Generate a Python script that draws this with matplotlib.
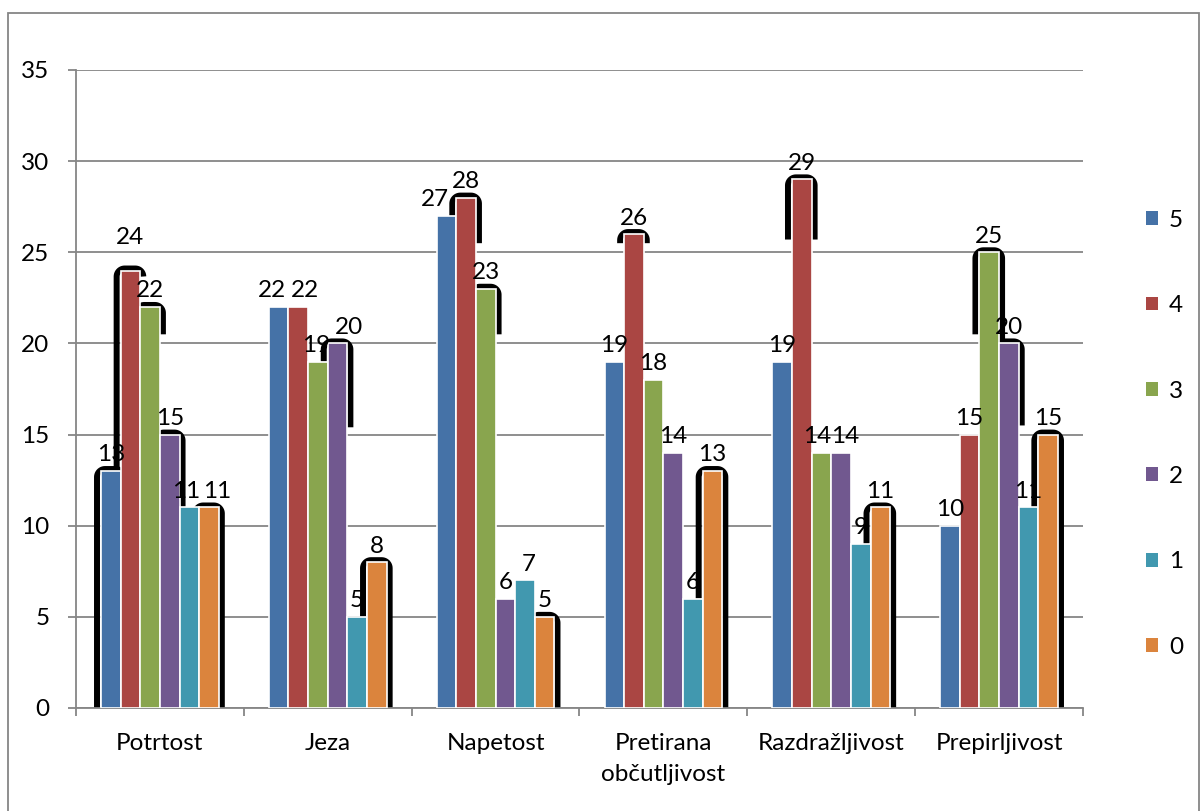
import numpy as np
import matplotlib.pyplot as plt
from matplotlib.patches import Rectangle, Patch

plt.rcParams['font.family'] = ['Lato', 'DejaVu Sans']

categories = ['Potrtost', 'Jeza', 'Napetost', 'Pretirana\nobčutljivost',
              'Razdražljivost', 'Prepirljivost']
series_names = ['5', '4', '3', '2', '1', '0']
values = {
    '5': [13, 22, 27, 19, 19, 10],
    '4': [24, 22, 28, 26, 29, 15],
    '3': [22, 19, 23, 18, 14, 25],
    '2': [15, 20, 6, 14, 14, 20],
    '1': [11, 5, 7, 6, 9, 11],
    '0': [11, 8, 5, 13, 11, 15],
}
colors = ['#4572A7', '#AA4643', '#89A54E', '#71588F', '#4198AF', '#DB843D']

# black callout outlines left around some of the bars:
# (category, series, lower end of left side, lower end of right side)
callouts = [
    (0, '5', 0, None), (0, '4', 0, None), (0, '3', None, 20.5),
    (0, '2', None, 11), (0, '0', 11, 0),
    (1, '2', 19, 15.4), (1, '0', 5, 0),
    (2, '4', 27, 25.5), (2, '3', None, 20.5), (2, '0', None, 0),
    (3, '4', 25.5, 25.5), (3, '0', 6, 0),
    (4, '4', 25.7, 25.7), (4, '0', 9, 0),
    (5, '3', 20.5, 20.2), (5, '2', None, 15.5), (5, '0', 11, 0),
]

# labels that sit off their usual spot (points)
label_nudge = {(0, '4'): (0, 12), (2, '5'): (-8, 0), (2, '1'): (3, 0),
               (1, '5'): (-5, 0), (1, '4'): (5, 0),
               (1, '3'): (-1, 0), (1, '2'): (8, 0),
               (0, '1'): (-2, 0), (0, '0'): (6, 0),
               (4, '3'): (-3, 0), (4, '2'): (3, 0)}

W, H = 1203, 811
fig = plt.figure(figsize=(W / 100, H / 100), dpi=100)
ax = fig.add_axes([76 / W, 1 - 708 / H, (1083 - 76) / W, (708 - 70) / H])

grid_c = '#868686'
fs = 17.5
x = np.arange(len(categories))
bw = 0.117
ymax = 35
px_x = len(categories) / (1083 - 76)
px_y = ymax / (708 - 70)

handles = []
for j, (name, c) in enumerate(zip(series_names, colors)):
    xs = x + (j - 2.5) * bw
    ax.bar(xs, values[name], width=bw, color=c, edgecolor='white',
           linewidth=1.2, zorder=3)
    for i, (xi, v) in enumerate(zip(xs, values[name])):
        dx, dy = label_nudge.get((i, name), (0, 0))
        ax.annotate(str(v), (xi, v), xytext=(dx, 4 + dy),
                    textcoords='offset points', ha='center', va='bottom',
                    fontsize=fs, zorder=5)
    handles.append(Patch(facecolor=c, edgecolor='none', label=name))


def callout(cat, name, left_end, right_end):
    j = series_names.index(name)
    v = values[name][cat]
    xc = cat + (j - 2.5) * bw
    xl = xc - bw / 2 - 4 * px_x
    xr = xc + bw / 2 + 3 * px_x
    top = v + 2 * px_y
    rx, ry = 8 * px_x, 8 * px_y
    t = np.linspace(np.pi, np.pi / 2, 12)
    pts_x, pts_y = [], []
    if left_end is not None:
        pts_x.append(xl)
        pts_y.append(left_end)
    pts_x += list(xl + rx + rx * np.cos(t))
    pts_y += list(top - ry + ry * np.sin(t))
    t2 = np.linspace(np.pi / 2, 0, 12)
    pts_x += list(xr - rx + rx * np.cos(t2))
    pts_y += list(top - ry + ry * np.sin(t2))
    if right_end is not None:
        pts_x.append(xr)
        pts_y.append(right_end)
    ax.plot(pts_x, pts_y, color='black', lw=4.3, solid_capstyle='butt',
            solid_joinstyle='round', zorder=2, clip_on=False)


for cat, name, le, re in callouts:
    callout(cat, name, le, re)

ax.set_xlim(-0.5, len(categories) - 0.5)
ax.set_ylim(0, ymax)
ax.set_yticks(range(0, ymax + 1, 5))
ax.yaxis.grid(True, color=grid_c, linewidth=1.3, zorder=0)
ax.set_axisbelow(True)

ax.set_xticks(x)
ax.set_xticklabels(categories, fontsize=fs, linespacing=1.6)
ax.set_xticks(np.arange(len(categories) + 1) - 0.5, minor=True)
ax.tick_params(axis='x', which='major', length=0, pad=18)
ax.tick_params(axis='x', which='minor', length=6, width=1.3, color=grid_c,
               direction='out')
ax.tick_params(axis='y', length=6, width=1.3, color=grid_c, pad=13,
               labelsize=fs)

for side in ['top', 'right']:
    ax.spines[side].set_visible(False)
for side in ['left', 'bottom']:
    ax.spines[side].set_color(grid_c)
    ax.spines[side].set_linewidth(1.3)

fig.legend(handles=handles, loc='upper left',
           bbox_to_anchor=(1136 / W, 1 - 200 / H), frameon=False,
           fontsize=fs, handlelength=0.5, handleheight=0.5,
           handletextpad=0.45, labelspacing=2.65, borderaxespad=0)

fig.patches.append(Rectangle((8 / W, -0.02), (1199 - 8) / W, 1.02 - 13 / H,
                             transform=fig.transFigure, fill=False,
                             edgecolor=grid_c, linewidth=1.3))

fig.savefig('out.png', dpi=100)
